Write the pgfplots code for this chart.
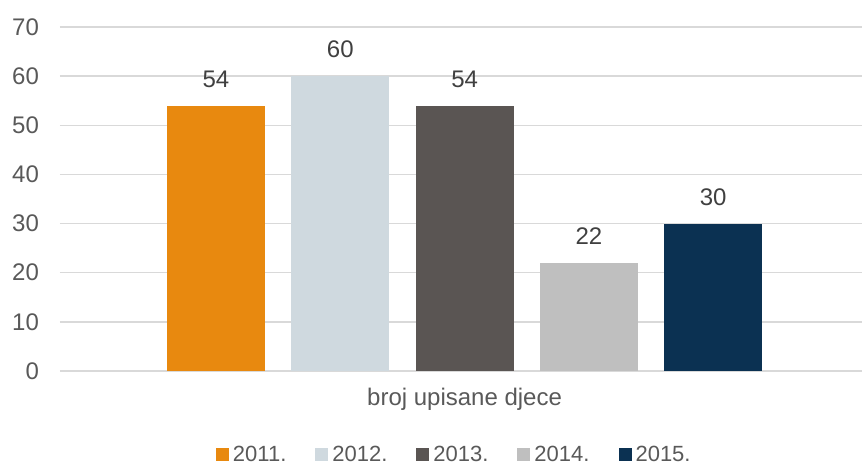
\documentclass[border=0pt]{standalone}
\usepackage{fontspec}
\setmainfont{Liberation Sans}
\usepackage{pgfplots}
\pgfplotsset{compat=1.18}
\definecolor{cA}{HTML}{E8890F}
\definecolor{cB}{HTML}{CFD9DF}
\definecolor{cC}{HTML}{5A5553}
\definecolor{cD}{HTML}{BFBFBF}
\definecolor{cE}{HTML}{0B3152}
\definecolor{gridc}{HTML}{D9D9D9}
\definecolor{textc}{HTML}{595959}
\definecolor{valc}{HTML}{404040}
\begin{document}
\begin{tikzpicture}
\begin{axis}[
  scale only axis, width=401pt, height=172pt,
  xmin=-0.255, xmax=6.197, ymin=0, ymax=70,
  ytick={0,10,...,70},
  xtick={3}, xticklabels={broj upisane djece},
  ybar, bar width=0.788,
  axis line style={draw=none}, major tick length=0pt,
  ymajorgrids, grid style={color=gridc, line width=0.75pt},
  tick label style={font=\fontsize{12}{14}\selectfont, text=textc},
  /pgf/number format/assume math mode=true,
  yticklabel style={xshift=-7pt},
  xticklabel style={yshift=-5pt},
  nodes near coords,
  nodes near coords style={font=\fontsize{12}{14}\selectfont, text=valc, yshift=5.5pt},
  legend columns=5,
  legend style={at={(0.491,-0.244)}, anchor=center, draw=none, fill=none,
    font=\fontsize{11}{13}\selectfont, text=textc,
    nodes={inner sep=0.5pt},
    /tikz/every odd column/.append style={column sep=1.5pt},
    /tikz/every even column/.append style={column sep=14pt}},
  legend image code/.code={\fill[#1] (0pt,-3.25pt) rectangle (6.5pt,3.25pt);},
  clip=false,
]
\addplot[fill=cA, draw=none, bar shift=0pt] coordinates {(1,54)};
\addplot[fill=cB, draw=none, bar shift=0pt] coordinates {(2,60)};
\addplot[fill=cC, draw=none, bar shift=0pt] coordinates {(3,54)};
\addplot[fill=cD, draw=none, bar shift=0pt] coordinates {(4,22)};
\addplot[fill=cE, draw=none, bar shift=0pt] coordinates {(5,30)};
\legend{2011.,2012.,2013.,2014.,2015.}
\end{axis}
\pgfresetboundingbox
\path[use as bounding box] (-30pt,-47.5pt) rectangle (401.5pt,185.5pt);
\end{tikzpicture}
\end{document}
